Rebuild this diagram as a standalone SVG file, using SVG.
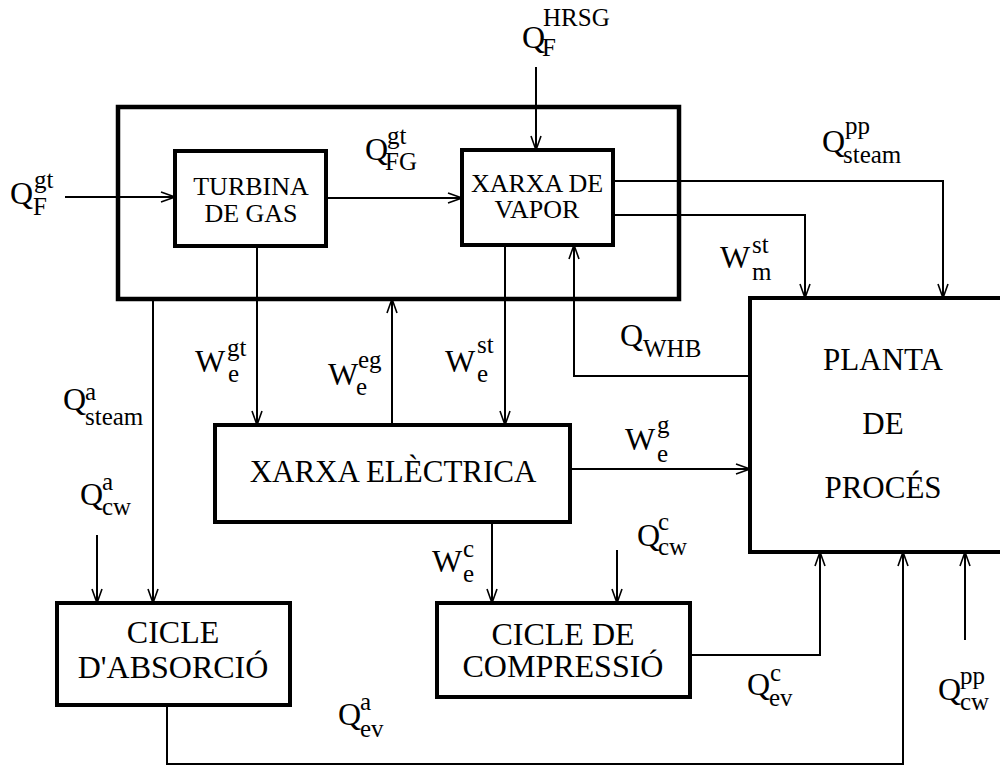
<svg xmlns="http://www.w3.org/2000/svg" width="1000" height="767" viewBox="0 0 1000 767" font-family="'Liberation Serif', 'DejaVu Serif', 'Times New Roman', serif">
<style>
.box{fill:none;stroke:#000;stroke-width:4}
.outer{fill:none;stroke:#000;stroke-width:4.5}
.c{fill:none;stroke:#000;stroke-width:2;marker-end:url(#ah)}
text, tspan{font-family:'Liberation Serif','DejaVu Serif','Times New Roman',serif;fill:#000}
.n26{font-size:26px;text-anchor:middle}
.n31{font-size:31px;text-anchor:middle}
.n32{font-size:32px;text-anchor:middle}
.m{font-size:32px}
.s{font-size:25px}
</style>
<defs>
<marker id="ah" markerUnits="userSpaceOnUse" viewBox="0 0 16 12" refX="15" refY="6" markerWidth="16" markerHeight="12" orient="auto">
<path d="M1,1 L15,6 L1,11" fill="none" stroke="#000" stroke-width="1.6"/>
</marker>
</defs>
<rect width="1000" height="767" fill="#fff"/>
<g id="outer"><rect class="outer" x="118" y="107" width="561" height="192"/></g>
<g id="turbina"><rect class="box" x="175" y="151" width="151" height="95"/>
<text class="n26" x="251" y="195">TURBINA</text><text class="n26" x="251" y="222">DE GAS</text></g>
<g id="vapor"><rect class="box" x="462" y="150" width="151" height="95"/>
<text class="n26" x="537" y="192">XARXA DE</text><text class="n26" x="537" y="218">VAPOR</text></g>
<g id="electrica"><rect class="box" x="215" y="425" width="355" height="97"/>
<text class="n31" x="393" y="482">XARXA ELÈCTRICA</text></g>
<g id="planta"><rect class="box" x="750" y="298" width="270" height="254"/>
<text class="n31" x="883" y="370">PLANTA</text><text class="n31" x="883" y="434">DE</text><text class="n31" x="883" y="498">PROCÉS</text></g>
<g id="absorcio"><rect class="box" x="57" y="603" width="233" height="102"/>
<text class="n32" x="173" y="643">CICLE</text><text class="n32" x="173" y="678">D'ABSORCIÓ</text></g>
<g id="compressio"><rect class="box" x="437" y="603" width="253" height="94"/>
<text class="n32" x="563" y="645">CICLE DE</text><text class="n32" x="563" y="677">COMPRESSIÓ</text></g>
<g id="connectors">
<path class="c" d="M65,197 H175"/>
<path class="c" d="M326,198 H462"/>
<path class="c" d="M536,67 V150"/>
<path class="c" d="M613,181 H943 V298"/>
<path class="c" d="M613,215 H805 V298"/>
<path class="c" d="M257,246 V425"/>
<path class="c" d="M392,425 V299"/>
<path class="c" d="M505,245 V425"/>
<path class="c" d="M750,376 H574 V245"/>
<path class="c" d="M570,469 H750"/>
<path class="c" d="M153,299 V603"/>
<path class="c" d="M97,535 V603"/>
<path class="c" d="M492,522 V603"/>
<path class="c" d="M617,550 V603"/>
<path class="c" d="M690,655 H820 V552"/>
<path class="c" d="M167,705 V764 H903 V552"/>
<path class="c" d="M965,640 V552"/>
</g>
<g id="labels">
<text><tspan class="m" x="10" y="204">Q</tspan><tspan class="s" x="34" y="188">gt</tspan><tspan class="s" x="33" y="215">F</tspan></text>
<text><tspan class="m" x="365" y="160">Q</tspan><tspan class="s" x="387" y="144">gt</tspan><tspan class="s" x="385" y="170">FG</tspan></text>
<text><tspan class="m" x="522" y="48">Q</tspan><tspan class="s" x="543" y="26">HRSG</tspan><tspan class="s" x="542" y="56">F</tspan></text>
<text><tspan class="m" x="822" y="152">Q</tspan><tspan class="s" x="845" y="134">pp</tspan><tspan class="s" x="843" y="163">steam</tspan></text>
<text><tspan class="m" x="720" y="268">W</tspan><tspan class="s" x="752" y="253">st</tspan><tspan class="s" x="752" y="280">m</tspan></text>
<text><tspan class="m" x="195" y="372">W</tspan><tspan class="s" x="227" y="356">gt</tspan><tspan class="s" x="228" y="382">e</tspan></text>
<text><tspan class="m" x="328" y="385">W</tspan><tspan class="s" x="358" y="368">eg</tspan><tspan class="s" x="356" y="395">e</tspan></text>
<text><tspan class="m" x="445" y="372">W</tspan><tspan class="s" x="477" y="353">st</tspan><tspan class="s" x="477" y="382">e</tspan></text>
<text><tspan class="m" x="63" y="410">Q</tspan><tspan class="s" x="85" y="400">a</tspan><tspan class="s" x="85" y="425">steam</tspan></text>
<text><tspan class="m" x="80" y="505">Q</tspan><tspan class="s" x="102" y="490">a</tspan><tspan class="s" x="102" y="515">cw</tspan></text>
<text><tspan class="m" x="620" y="346">Q</tspan><tspan class="s" x="643" y="357">WHB</tspan></text>
<text><tspan class="m" x="625" y="450">W</tspan><tspan class="s" x="657" y="433">g</tspan><tspan class="s" x="657" y="462">e</tspan></text>
<text><tspan class="m" x="637" y="546">Q</tspan><tspan class="s" x="658" y="530">c</tspan><tspan class="s" x="658" y="555">cw</tspan></text>
<text><tspan class="m" x="432" y="572">W</tspan><tspan class="s" x="463" y="557">c</tspan><tspan class="s" x="463" y="582">e</tspan></text>
<text><tspan class="m" x="747" y="695">Q</tspan><tspan class="s" x="770" y="681">c</tspan><tspan class="s" x="769" y="706">ev</tspan></text>
<text><tspan class="m" x="338" y="725">Q</tspan><tspan class="s" x="360" y="710">a</tspan><tspan class="s" x="360" y="737">ev</tspan></text>
<text><tspan class="m" x="938" y="700">Q</tspan><tspan class="s" x="960" y="684">pp</tspan><tspan class="s" x="960" y="710">cw</tspan></text>
</g>
</svg>
